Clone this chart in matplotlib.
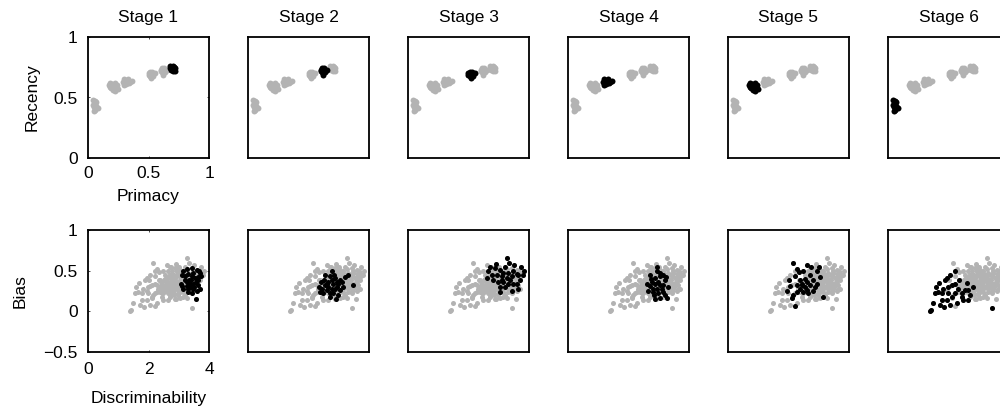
import matplotlib
matplotlib.use("Agg")
import matplotlib.pyplot as plt
import numpy as np

plt.rcParams['font.family'] = ['Liberation Sans', 'DejaVu Sans']

stages = ["Stage 1", "Stage 2", "Stage 3", "Stage 4", "Stage 5", "Stage 6"]

# Serial-position parameters per stage (primacy, recency)
primacy = [
    [0.68, 0.69, 0.70, 0.71, 0.72, 0.69, 0.70, 0.71, 0.68, 0.72, 0.70],
    [0.60, 0.61, 0.62, 0.63, 0.64, 0.62, 0.61, 0.63, 0.65, 0.60, 0.62],
    [0.50, 0.51, 0.52, 0.53, 0.54, 0.52, 0.51, 0.53, 0.55, 0.50, 0.52],
    [0.29, 0.30, 0.31, 0.32, 0.33, 0.34, 0.35, 0.31, 0.33, 0.30, 0.36],
    [0.17, 0.18, 0.20, 0.22, 0.23, 0.21, 0.19, 0.24, 0.18, 0.25, 0.22, 0.20],
    [0.04, 0.06, 0.05, 0.07, 0.05, 0.06, 0.08, 0.04, 0.07, 0.05],
]
recency = [
    [0.76, 0.75, 0.74, 0.73, 0.74, 0.73, 0.76, 0.75, 0.74, 0.72, 0.72],
    [0.73, 0.74, 0.72, 0.73, 0.71, 0.70, 0.71, 0.74, 0.73, 0.72, 0.69],
    [0.70, 0.71, 0.69, 0.70, 0.68, 0.67, 0.68, 0.71, 0.70, 0.69, 0.66],
    [0.63, 0.65, 0.64, 0.62, 0.64, 0.62, 0.63, 0.61, 0.65, 0.60, 0.64],
    [0.60, 0.62, 0.61, 0.62, 0.58, 0.56, 0.58, 0.60, 0.59, 0.57, 0.55, 0.59],
    [0.48, 0.47, 0.45, 0.43, 0.42, 0.40, 0.41, 0.44, 0.46, 0.39],
]

# Signal-detection parameters per stage (discriminability, bias)
discrim = [
    [3.10, 3.15, 3.28, 3.43, 3.59, 3.70, 3.72, 3.65, 3.54, 3.43, 3.35, 3.26, 3.37, 3.48,
     3.57, 3.65, 3.70, 3.59, 3.48, 3.37, 3.26, 3.15, 3.06, 3.21, 3.48, 3.32, 3.57, 3.43,
     3.30, 3.52, 3.62, 3.40, 3.20, 3.66, 3.30, 3.10],
    [2.77, 2.71, 2.88, 3.04, 2.99, 2.82, 2.66, 2.55, 2.44, 2.38, 2.60, 2.77, 2.93, 3.04,
     2.99, 2.82, 2.71, 2.49, 3.48, 3.10, 2.77, 2.66, 2.88, 2.93, 2.60,
     2.50, 2.85, 3.20, 2.35, 2.70, 3.15, 2.55, 2.90, 3.30, 2.40],
    [3.26, 3.35, 2.71, 2.88, 3.04, 3.15, 3.32, 3.48, 3.59, 3.43, 3.26, 3.10, 2.93, 2.77,
     2.60, 2.82, 2.99, 3.15, 3.32, 3.48, 3.59, 3.37, 3.04, 3.21, 3.43, 3.04, 3.65,
     3.75, 3.80, 3.70, 2.90, 3.50, 3.20, 3.10, 3.65, 2.65, 3.85],
    [2.93, 3.04, 3.15, 3.04, 2.88, 2.77, 2.60, 2.71, 2.88, 2.99, 3.04, 2.93, 2.82, 2.99,
     3.15, 3.26, 3.04, 2.88, 3.10, 3.21, 3.15, 2.80,
     2.70, 2.95, 3.25, 2.65, 3.20, 2.85, 3.30, 2.75],
    [2.16, 2.60, 2.29, 2.93, 2.49, 2.71, 2.21, 2.38, 2.05, 2.27, 2.44, 2.60, 2.82, 2.93,
     2.88, 2.71, 2.55, 2.38, 2.49, 2.66, 2.60, 2.27, 2.16, 2.10, 2.21, 3.15, 2.44,
     2.35, 2.00, 2.55, 3.05, 2.75, 1.95, 2.80, 3.00],
    [1.94, 1.88, 2.21, 2.10, 1.99, 1.83, 1.66, 1.77, 1.99, 2.10, 1.94, 1.77, 1.72, 1.50,
     1.39, 1.42, 2.27, 2.44, 2.55, 2.66, 2.71, 2.66, 2.49, 2.44, 2.33, 3.43, 2.05, 2.21, 1.55,
     2.05, 1.60, 2.35, 1.85, 2.60, 2.20, 1.70, 2.80],
]
bias = [
    [0.45, 0.50, 0.52, 0.53, 0.51, 0.47, 0.43, 0.39, 0.41, 0.43, 0.39, 0.36, 0.34, 0.34,
     0.36, 0.32, 0.27, 0.25, 0.27, 0.30, 0.31, 0.27, 0.34, 0.43, 0.47, 0.24, 0.15, 0.22,
     0.46, 0.30, 0.42, 0.38, 0.39, 0.50, 0.28, 0.31],
    [0.50, 0.43, 0.41, 0.39, 0.34, 0.34, 0.36, 0.32, 0.27, 0.24, 0.26, 0.28, 0.30, 0.26,
     0.20, 0.22, 0.23, 0.22, 0.32, 0.36, 0.38, 0.30, 0.27, 0.36, 0.34,
     0.38, 0.45, 0.42, 0.30, 0.18, 0.30, 0.45, 0.15, 0.45, 0.36],
    [0.66, 0.60, 0.55, 0.53, 0.51, 0.47, 0.47, 0.49, 0.46, 0.43, 0.41, 0.43, 0.45, 0.45,
     0.41, 0.38, 0.36, 0.36, 0.34, 0.34, 0.34, 0.38, 0.30, 0.30, 0.25, 0.24, 0.45,
     0.55, 0.45, 0.38, 0.58, 0.57, 0.55, 0.38, 0.28, 0.50, 0.50],
    [0.49, 0.47, 0.45, 0.43, 0.41, 0.36, 0.34, 0.31, 0.34, 0.36, 0.32, 0.28, 0.24, 0.22,
     0.24, 0.16, 0.16, 0.15, 0.27, 0.38, 0.32, 0.28,
     0.45, 0.55, 0.42, 0.25, 0.20, 0.20, 0.30, 0.40],
    [0.59, 0.57, 0.52, 0.50, 0.49, 0.45, 0.43, 0.39, 0.31, 0.32, 0.34, 0.36, 0.38, 0.34,
     0.30, 0.32, 0.30, 0.28, 0.24, 0.23, 0.26, 0.24, 0.20, 0.17, 0.07, 0.18, 0.32,
     0.48, 0.38, 0.40, 0.42, 0.55, 0.25, 0.25, 0.55],
    [0.41, 0.38, 0.34, 0.32, 0.30, 0.28, 0.24, 0.22, 0.22, 0.18, 0.14, 0.14, 0.08, 0.10,
     0.00, 0.02, 0.10, 0.22, 0.26, 0.26, 0.20, 0.14, 0.14, 0.18, 0.28, 0.04, 0.08, 0.22, 0.22,
     0.45, 0.30, 0.38, 0.05, 0.35, 0.50, 0.35, 0.30],
]

GRAY = "#b3b3b3"
FS = 12.5

fig = plt.figure(figsize=(10, 4.11), dpi=100)

all_p = np.concatenate(primacy)
all_r = np.concatenate(recency)
all_d = np.concatenate(discrim)
all_b = np.concatenate(bias)

for k, name in enumerate(stages):
    left = (88 + 160 * k) / 1000
    ax1 = fig.add_axes([left, 1 - 158 / 411, 121 / 1000, 121 / 411])
    ax2 = fig.add_axes([left, 1 - 352 / 411, 121 / 1000, 122 / 411])

    ax1.scatter(all_p, all_r, s=18, color=GRAY, linewidths=0, zorder=2)
    ax1.scatter(primacy[k], recency[k], s=18, color="black", linewidths=0, zorder=3)
    ax1.set_xlim(0, 1)
    ax1.set_ylim(0, 1)
    ax1.set_title(name, fontsize=FS, pad=11)

    ax2.scatter(all_d, all_b, s=13, color=GRAY, linewidths=0, zorder=2)
    ax2.scatter(discrim[k], bias[k], s=13, color="black", linewidths=0, zorder=3)
    ax2.set_xlim(0, 4)
    ax2.set_ylim(-0.5, 1)

    for ax in (ax1, ax2):
        for sp in ax.spines.values():
            sp.set_linewidth(1.3)
        ax.tick_params(direction="in", length=1.5, width=0.5, labelsize=FS,
                       top=True, right=True)
        ax.tick_params(axis="y", pad=7.5)
    ax1.tick_params(axis="x", pad=5.5)
    ax2.tick_params(axis="x", pad=7)

    if k == 0:
        ax1.set_xticks([0, 0.5, 1])
        ax1.set_xticklabels(["0", "0.5", "1"])
        ax1.set_yticks([0, 0.5, 1])
        ax1.set_yticklabels(["0", "0.5", "1"])
        ax1.set_xlabel("Primacy", fontsize=FS, labelpad=6)
        ax1.set_ylabel("Recency", fontsize=FS, labelpad=10)
        ax2.set_xticks([0, 2, 4])
        ax2.set_xticklabels(["0", "2", "4"])
        ax2.set_yticks([-0.5, 0, 0.5, 1])
        ax2.set_yticklabels(["\u22120.5", "0", "0.5", "1"])
        ax2.set_xlabel("Discriminability", fontsize=FS, labelpad=10.5)
        ax2.set_ylabel("Bias", fontsize=FS, labelpad=11.5)
    else:
        for ax in (ax1, ax2):
            ax.set_xticks([])
            ax.set_yticks([])

fig.savefig("out.png", dpi=100)
